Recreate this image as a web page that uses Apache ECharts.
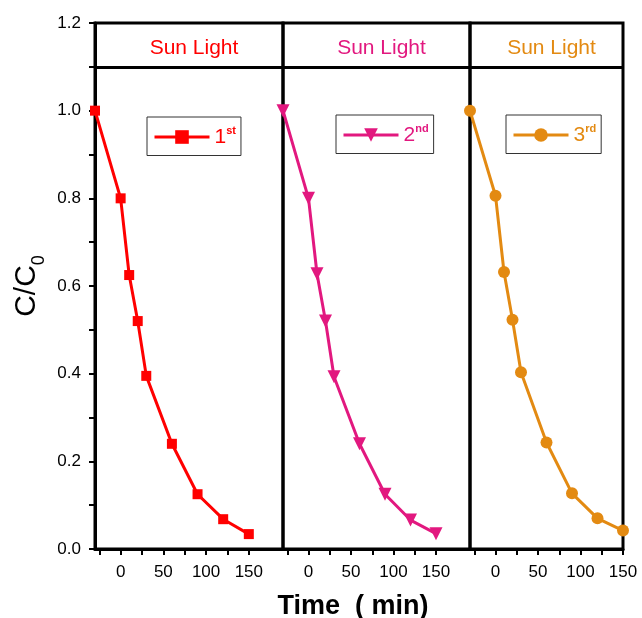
<!DOCTYPE html>
<html>
<head>
<meta charset="utf-8">
<script src="https://cdn.jsdelivr.net/npm/echarts@6/dist/echarts.min.js"></script>
<style>
  html, body { margin: 0; padding: 0; background: #fff; }
  #main { width: 642px; height: 618px; }
</style>
</head>
<body>
<div id="main"></div>
<script>
// time (min), -30 = dark period start
const time = [-30, 0, 10, 20, 30, 60, 90, 120, 150];
// C/C0 for each cycle
const run1 = [1.0, 0.80, 0.625, 0.52, 0.395, 0.24, 0.125, 0.068, 0.034];
const run2 = [1.0, 0.80, 0.628, 0.52, 0.393, 0.24, 0.125, 0.066, 0.035];
const run3 = [1.0, 0.806, 0.632, 0.523, 0.403, 0.243, 0.127, 0.07, 0.042];
const runNames = ['1st', '2nd', '3rd'];
const xLabels = [0, 50, 100, 150];
const xTicks = [-25, 0, 25, 50, 75, 100, 125, 150];

const colors = ['#ff0000', '#e2187f', '#e38a12'];
const symbols = ['rect', 'triangle', 'circle'];
const symbolSizes = [10, 13, 12];
const rotates = [0, 180, 0];
const runs = [run1, run2, run3];
const xMax = [190, 190, 150];

const font = 'Arial, "Liberation Sans", sans-serif';

// panel edges in px
const panels = [
  { left: 95, right: 359 },
  { left: 283, right: 172 },
  { left: 470, right: 19 }
];
const legendPos = [[147, 117], [336, 115], [506, 115]];

const chart = echarts.init(document.getElementById('main'));

const grids = panels.map(p => ({
  left: p.left, right: p.right, top: 23, bottom: 69,
  show: true, borderColor: '#000', borderWidth: 3,
  backgroundColor: 'transparent', containLabel: false
}));

const xAxes = panels.map((p, i) => ({
  type: 'value', gridIndex: i, min: -30, max: xMax[i],
  axisLine: { show: true, onZero: false, lineStyle: { color: '#000', width: 3 } },
  axisTick: { show: true, customValues: xTicks, length: 6, lineStyle: { color: '#000', width: 2 } },
  axisLabel: { customValues: xLabels, color: '#000', fontSize: 17, fontFamily: font, margin: 15 },
  splitLine: { show: false }
}));

const yAxes = panels.map((p, i) => ({
  type: 'value', gridIndex: i, min: 0, max: 1.2, interval: 0.1,
  show: i === 0,
  name: i === 0 ? '{c|C/C}{s|0}' : '',
  nameLocation: 'middle', nameGap: 47,
  nameTextStyle: {
    rich: {
      c: { fontSize: 30, fontFamily: font, color: '#000', lineHeight: 34 },
      s: { fontSize: 18, fontFamily: font, color: '#000', verticalAlign: 'bottom', lineHeight: 42 }
    }
  },
  axisLine: { show: true, onZero: false, lineStyle: { color: '#000', width: 3 } },
  axisTick: { show: true, length: 6, lineStyle: { color: '#000', width: 2 } },
  axisLabel: {
    color: '#000', fontSize: 17, fontFamily: font, margin: 14,
    formatter: v => (Math.round(v * 10) % 2 === 0 ? v.toFixed(1) : '')
  },
  splitLine: { show: false }
}));

const series = runs.map((r, i) => ({
  name: runNames[i],
  type: 'line',
  xAxisIndex: i, yAxisIndex: i,
  data: time.map((t, k) => [t, r[k]]),
  symbol: symbols[i], symbolSize: symbolSizes[i], symbolRotate: rotates[i],
  color: colors[i],
  lineStyle: { width: 3, color: colors[i] },
  itemStyle: { color: colors[i] },
  clip: false,
  markLine: {
    silent: true, symbol: 'none', animation: false,
    label: { show: false },
    lineStyle: { color: '#000', width: 3, type: 'solid' },
    data: [{ yAxis: 1.1 }]
  }
}));

const legends = runNames.map((n, i) => ({
  data: [n],
  left: legendPos[i][0], top: legendPos[i][1],
  orient: 'horizontal',
  borderColor: '#333', borderWidth: 1, borderRadius: 0,
  padding: [8, 5, 8, 6],
  itemWidth: 55, itemHeight: 17, itemGap: 5,
  selectedMode: false,
  lineStyle: { width: 3 },
  formatter: name => '{n|' + name[0] + '}{s|' + name.slice(1) + '}',
  textStyle: {
    color: colors[i],
    rich: {
      n: { fontSize: 21, fontFamily: font, color: colors[i], lineHeight: 24 },
      s: { fontSize: 11, fontFamily: font, fontWeight: 'bold', color: colors[i], verticalAlign: 'top', lineHeight: 24 }
    }
  }
}));

const titles = panels.map((p, i) => {
  const w = 642 - p.right - p.left;
  return {
    text: 'Sun Light',
    left: p.left + w / 2, top: 33, textAlign: 'center',
    textStyle: { color: colors[i], fontSize: 21, fontWeight: 'normal', fontFamily: font }
  };
});
titles.push({
  text: 'Time  ( min)',
  left: 348, top: 588, textAlign: 'center',
  textStyle: { color: '#000', fontSize: 27, fontWeight: 'bold', fontFamily: font }
});

chart.setOption({
  animation: false,
  backgroundColor: '#fff',
  title: titles,
  legend: legends,
  grid: grids,
  xAxis: xAxes,
  yAxis: yAxes,
  series: series
});
</script>
</body>
</html>
